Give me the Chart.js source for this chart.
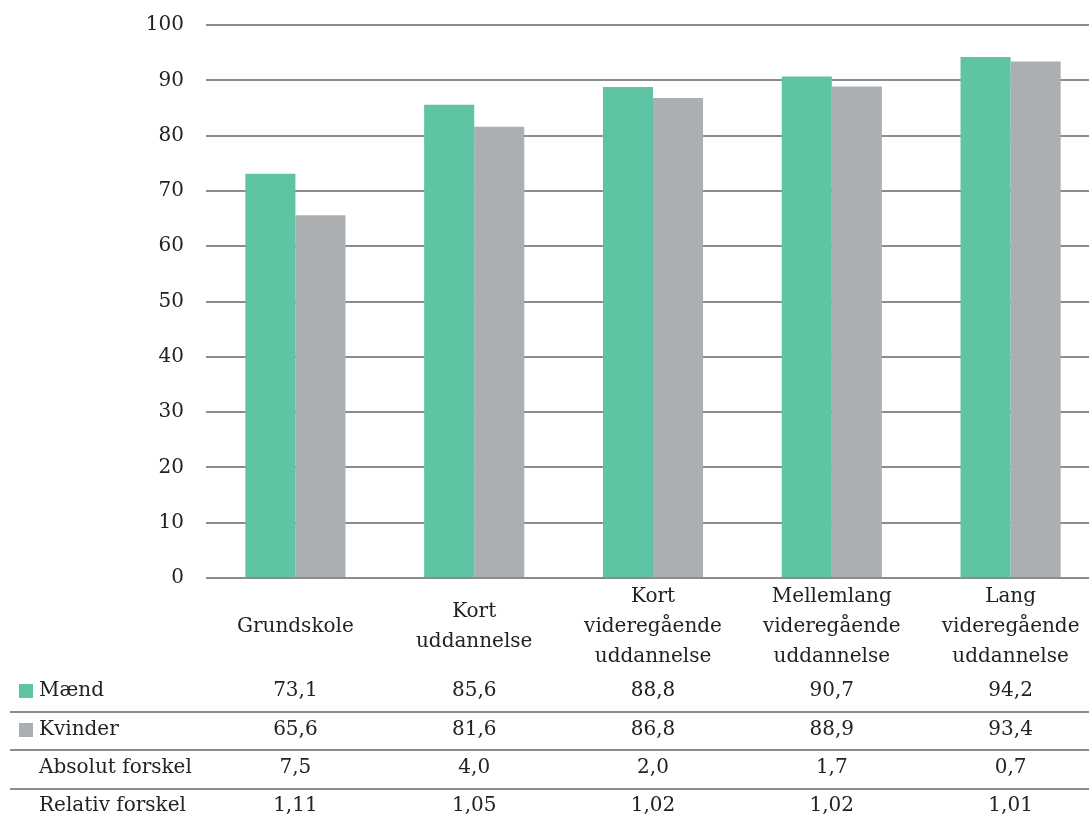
<!DOCTYPE html>
<html>
<head>
<meta charset="utf-8">
<script src="https://cdn.jsdelivr.net/npm/chart.js@4"></script>
<style>
  body { margin: 0; background: #fff; }
  #wrap { width: 1089px; height: 816px; overflow: hidden; }
</style>
</head>
<body>
<div id="wrap"><canvas id="chart" width="1100" height="816"></canvas></div>
<script>
// Data
const categories = [
    'Grundskole',
    ['Kort', 'uddannelse'],
    ['Kort', 'videregående', 'uddannelse'],
    ['Mellemlang', 'videregående', 'uddannelse'],
    ['Lang', 'videregående', 'uddannelse']
];
const maend = [73.1, 85.6, 88.8, 90.7, 94.2];
const kvinder = [65.6, 81.6, 86.8, 88.9, 93.4];
const absolutForskel = ['7,5', '4,0', '2,0', '1,7', '0,7'];
const relativForskel = ['1,11', '1,05', '1,02', '1,02', '1,01'];
const yTicks = [0, 10, 20, 30, 40, 50, 60, 70, 80, 90, 100];

const green = '#5ec4a4';
const gray = '#abafb2';
const textColor = '#222';
const lineColor = '#8c8c8c';
const fontFamily = '"DejaVu Serif", serif';
const fontSize = 20;

const fmt = v => v.toFixed(1).replace('.', ',');

// Tabellen under diagrammet
const tablePlugin = {
    id: 'table',
    afterDraw(chart) {
        const ctx = chart.ctx;
        const x = chart.scales.x;
        const rows = [
            { label: 'Mænd', color: green, values: maend.map(fmt) },
            { label: 'Kvinder', color: gray, values: kvinder.map(fmt) },
            { label: 'Absolut forskel', color: null, values: absolutForskel },
            { label: 'Relativ forskel', color: null, values: relativForskel }
        ];
        const rowY = [691, 730, 768, 806];
        const sepY = [712, 750, 789];
        ctx.save();
        ctx.font = fontSize + 'px ' + fontFamily;
        ctx.fillStyle = textColor;
        ctx.textBaseline = 'middle';
        rows.forEach((row, r) => {
            if (row.color) {
                ctx.fillStyle = row.color;
                ctx.fillRect(19, rowY[r] - 7, 14, 14);
                ctx.fillStyle = textColor;
            }
            ctx.textAlign = 'left';
            ctx.fillText(row.label, 39, rowY[r]);
            ctx.textAlign = 'center';
            row.values.forEach((v, i) => {
                ctx.fillText(v, x.getPixelForValue(i), rowY[r]);
            });
        });
        ctx.strokeStyle = lineColor;
        ctx.lineWidth = 2;
        sepY.forEach(y => {
            ctx.beginPath();
            ctx.moveTo(10, y);
            ctx.lineTo(1100, y);
            ctx.stroke();
        });
        ctx.restore();
    }
};

const config = {
    type: 'bar',
    data: {
        labels: categories,
        datasets: [
            { label: 'Mænd', data: maend, backgroundColor: green },
            { label: 'Kvinder', data: kvinder, backgroundColor: gray }
        ]
    },
    options: {
        responsive: false,
        animation: false,
        devicePixelRatio: 1,
        layout: { padding: { top: 25, right: 0, bottom: 0, left: 0 } },
        datasets: { bar: { categoryPercentage: 0.56, barPercentage: 1 } },
        plugins: {
            legend: { display: false },
            tooltip: { enabled: false }
        },
        scales: {
            x: {
                grid: { display: false },
                border: { display: false },
                ticks: {
                    color: textColor,
                    font: { family: fontFamily, size: fontSize, lineHeight: 1.5 },
                    maxRotation: 0,
                    autoSkip: false,
                    crossAlign: 'center',
                    padding: 11
                },
                afterFit(scale) { scale.height = 816 - 578; }
            },
            y: {
                min: 0,
                max: 100,
                afterBuildTicks(scale) { scale.ticks = yTicks.map(v => ({ value: v })); },
                grid: { color: lineColor, lineWidth: 2, drawTicks: false },
                border: { display: false },
                ticks: {
                    color: textColor,
                    font: { family: fontFamily, size: fontSize },
                    padding: 22
                },
                afterFit(scale) {
                    scale.width = 206;
                    scale.paddingTop = 0;
                    scale.paddingBottom = 0;
                }
            }
        }
    },
    plugins: [tablePlugin]
};

window.onload = function() {
    const ctx = document.getElementById('chart').getContext('2d');
    new Chart(ctx, config);
};
</script>
</body>
</html>
